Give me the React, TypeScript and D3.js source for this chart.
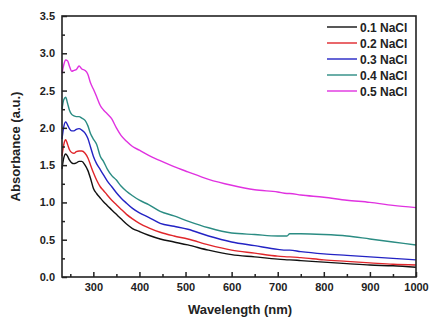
import { useEffect, useRef } from 'react';
import * as d3 from 'd3';

// wavelengths (nm) shared by every spectrum
const wavelengths = [
  232, 236, 240, 244, 248, 253, 258, 263, 269, 275, 282, 288, 294, 300, 307, 315, 322, 330, 340, 350,
  360, 372, 385, 400, 420, 445, 475, 505, 550, 600, 650, 700, 720, 726, 750, 800, 850, 900, 950, 1000,
];

const nacl01 = [
  1.45, 1.6, 1.65, 1.62, 1.57, 1.53, 1.52, 1.53, 1.55, 1.55, 1.5, 1.43, 1.32, 1.19, 1.12, 1.06, 1.01, 0.96, 0.9, 0.84,
  0.78, 0.71, 0.65, 0.61, 0.56, 0.51, 0.47, 0.43, 0.36, 0.3, 0.27, 0.24, 0.23, 0.23, 0.22, 0.2, 0.18, 0.16, 0.15, 0.13,
];
const nacl02 = [
  1.62, 1.78, 1.84, 1.78, 1.71, 1.67, 1.66, 1.68, 1.69, 1.69, 1.66, 1.6, 1.5, 1.4, 1.3, 1.21, 1.16, 1.1, 1.03, 0.97,
  0.91, 0.84, 0.78, 0.72, 0.66, 0.6, 0.55, 0.51, 0.43, 0.36, 0.32, 0.28, 0.27, 0.27, 0.26, 0.23, 0.21, 0.19, 0.17, 0.16,
];
const nacl03 = [
  1.85, 2.02, 2.08, 2.04, 1.99, 1.96, 1.96, 1.98, 1.99, 1.97, 1.93, 1.86, 1.74, 1.62, 1.52, 1.44, 1.37, 1.29, 1.21, 1.13,
  1.06, 0.99, 0.92, 0.86, 0.8, 0.72, 0.68, 0.64, 0.55, 0.47, 0.42, 0.37, 0.36, 0.36, 0.34, 0.31, 0.29, 0.27, 0.25, 0.23,
];
const nacl04 = [
  2.25, 2.38, 2.41, 2.33, 2.24, 2.18, 2.16, 2.15, 2.15, 2.13, 2.1, 2.03, 1.92, 1.85, 1.78, 1.62, 1.55, 1.45, 1.36, 1.3,
  1.22, 1.15, 1.09, 1.03, 0.97, 0.88, 0.82, 0.75, 0.66, 0.59, 0.57, 0.55, 0.55, 0.58, 0.58, 0.57, 0.55, 0.51, 0.47, 0.43,
];
const nacl05 = [
  2.73, 2.85, 2.91, 2.9, 2.83, 2.76, 2.77, 2.78, 2.83, 2.79, 2.77, 2.72, 2.6, 2.52, 2.42, 2.3, 2.24, 2.19, 2.12, 2.0,
  1.9, 1.82, 1.75, 1.7, 1.63, 1.56, 1.48, 1.41, 1.31, 1.23, 1.17, 1.14, 1.12, 1.12, 1.1, 1.07, 1.03, 1.0, 0.96, 0.93,
];

const seriesNames = ['0.1 NaCl', '0.2 NaCl', '0.3 NaCl', '0.4 NaCl', '0.5 NaCl'];
const seriesValues = [nacl01, nacl02, nacl03, nacl04, nacl05];
const seriesColors = ['#111111', '#e0262b', '#2323c4', '#2b8c83', '#e032e0'];

const xMajorTicks = [300, 400, 500, 600, 700, 800, 900, 1000];
const xMinorTicks = [250, 350, 450, 550, 650, 750, 850, 950];
const yMajorTicks = [0, 0.5, 1, 1.5, 2, 2.5, 3, 3.5];
const yMinorTicks = [0.25, 0.75, 1.25, 1.75, 2.25, 2.75, 3.25];

const font = "'Liberation Sans', Arial, sans-serif";

function App() {
  const width = 438;
  const height = 327;
  const margin = { left: 62, top: 16, right: 22, bottom: 50 };
  const innerW = width - margin.left - margin.right;
  const innerH = height - margin.top - margin.bottom;

  const xScale = d3.scaleLinear().domain([232, 1000]).range([0, innerW]);
  const yScale = d3.scaleLinear().domain([0, 3.5]).range([innerH, 0]);

  const line = d3
    .line<number>()
    .x((d, i) => xScale(wavelengths[i]))
    .y((d) => yScale(d))
    .curve(d3.curveMonotoneX);

  const xAxisRef = useRef<SVGGElement>(null);
  const yAxisRef = useRef<SVGGElement>(null);

  useEffect(() => {
    const xg = d3.select(xAxisRef.current);
    xg.selectAll('*').remove();
    xg.append('g').call(
      d3.axisBottom(xScale).tickValues(xMinorTicks).tickSize(-3).tickFormat(() => '')
    );
    xg.append('g').call(
      d3.axisBottom(xScale).tickValues(xMajorTicks).tickSize(-5).tickPadding(6).tickFormat(d3.format('d'))
    );
    xg.selectAll('.domain').remove();

    const yg = d3.select(yAxisRef.current);
    yg.selectAll('*').remove();
    yg.append('g').call(
      d3.axisLeft(yScale).tickValues(yMinorTicks).tickSize(-3).tickFormat(() => '')
    );
    yg.append('g').call(
      d3.axisLeft(yScale).tickValues(yMajorTicks).tickSize(-5).tickPadding(7).tickFormat(d3.format('.1f'))
    );
    yg.selectAll('.domain').remove();

    [xg, yg].forEach((g) => {
      g.selectAll('line').attr('stroke', '#222').attr('stroke-width', 1.5);
      g.selectAll('text')
        .attr('font-family', font)
        .attr('font-size', 11)
        .attr('font-weight', 'bold')
        .attr('fill', '#222');
    });
  }, []);

  return (
    <svg
      width={width}
      height={height}
      style={{ position: 'absolute', left: 0, top: 0, background: '#fff' }}
    >
      <g transform={`translate(${margin.left},${margin.top})`}>
        {seriesValues.map((vals, i) => (
          <path key={seriesNames[i]} d={line(vals) ?? ''} fill='none' stroke={seriesColors[i]} strokeWidth={1.4} />
        ))}
        <g ref={xAxisRef} transform={`translate(0,${innerH})`} />
        <g ref={yAxisRef} />
        <rect x={0} y={0} width={innerW} height={innerH} fill='none' stroke='#222' strokeWidth={1.6} />
        {seriesNames.map((name, i) => (
          <g key={name} transform={`translate(${265},${11 + i * 16})`}>
            <line x1={0} x2={30} y1={0} y2={0} stroke={seriesColors[i]} strokeWidth={1.4} />
            <text x={33} y={4.5} fontFamily={font} fontSize={12} fontWeight='bold' fill='#222'>
              {name}
            </text>
          </g>
        ))}
      </g>
      <text
        x={width / 2 + 21}
        y={314}
        textAnchor='middle'
        fontFamily={font}
        fontSize={13}
        fontWeight='bold'
        fill='#222'
      >
        Wavelength (nm)
      </text>
      <text
        transform={`translate(20,${margin.top + innerH / 2}) rotate(-90)`}
        textAnchor='middle'
        fontFamily={font}
        fontSize={13}
        fontWeight='bold'
        fill='#222'
      >
        Absorbance (a.u.)
      </text>
    </svg>
  );
}

export default App;
